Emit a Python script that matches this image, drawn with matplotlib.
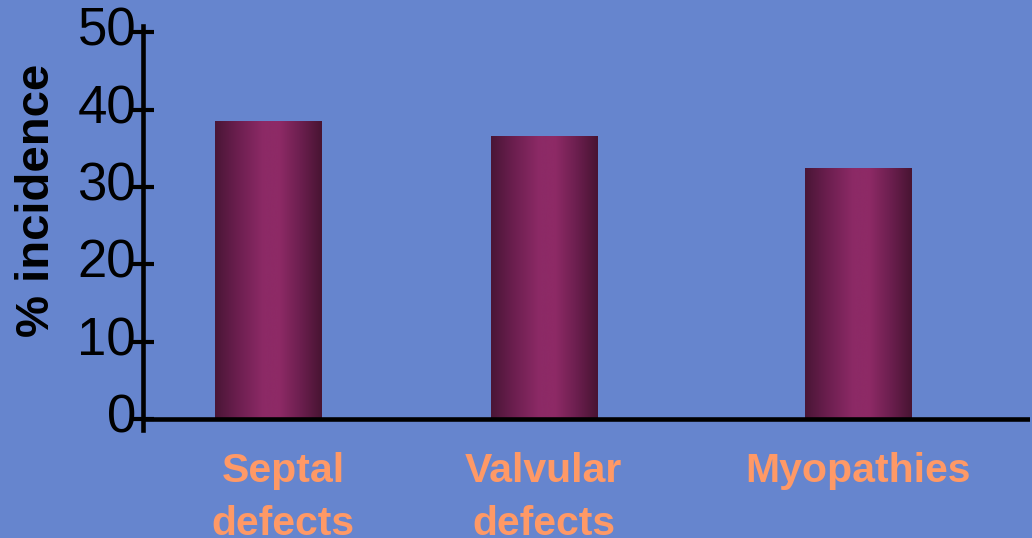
import numpy as np
import matplotlib
matplotlib.use("Agg")
import matplotlib.pyplot as plt
from matplotlib.colors import LinearSegmentedColormap
from matplotlib.patches import Rectangle
from matplotlib.transforms import ScaledTranslation

# Data
categories = ["Septal\ndefects", "Valvular\ndefects", "Myopathies"]
incidence = [38.5, 36.6, 32.4]
y_ticks = [0, 10, 20, 30, 40, 50]

# Layout
bar_pos = [0.0, 1.0, 2.143]
label_pos = [0.054, 1.0, 2.143]
bar_width = 0.385

bg = "#6685CE"
label_color = "#FF9966"
bar_cmap = LinearSegmentedColormap.from_list(
    "bar_shade",
    [(0.0, "#4A1636"), (0.2, "#6A1E4E"), (0.45, "#8C2A66"),
     (0.6, "#8E2A66"), (0.8, "#6C1F4F"), (1.0, "#481432")])

fig = plt.figure(figsize=(10.32, 5.38), dpi=100, facecolor=bg)
W, H = 1032, 538
ax = fig.add_axes([143 / W, (H - 430) / H, (1030 - 143) / W, (430 - 26) / H])
ax.set_facecolor(bg)

grad = np.linspace(0, 1, 256).reshape(1, -1)
for x, v in zip(bar_pos, incidence):
    rect = Rectangle((x - bar_width / 2, 0), bar_width, v,
                     facecolor="none", edgecolor="none")
    ax.add_patch(rect)
    im = ax.imshow(grad, cmap=bar_cmap, aspect="auto", interpolation="bicubic",
                   extent=(x - bar_width / 2, x + bar_width / 2, 0, v), zorder=2)
    im.set_clip_path(rect)

ax.set_xlim(-0.454, 2.766)
ax.set_ylim(-1.42, 50.8)

# baseline
ax.axhline(0, color="black", lw=3.3, zorder=3)

for s in ["top", "right", "bottom"]:
    ax.spines[s].set_visible(False)
ax.spines["left"].set_linewidth(3.3)
ax.spines["left"].set_color("black")

ax.set_yticks(y_ticks)
ax.set_yticklabels([str(t) for t in y_ticks], fontsize=38,
                   family="Liberation Sans", color="black")
ax.tick_params(axis="y", direction="inout", length=16, width=3, pad=-3)
shift_up = ScaledTranslation(0, 6 / 100, fig.dpi_scale_trans)
for lbl in ax.get_yticklabels():
    lbl.set_transform(lbl.get_transform() + shift_up)

ax.set_xticks(label_pos)
ax.set_xticklabels(categories, fontsize=29.5, fontweight="bold",
                   family="Liberation Sans", color=label_color,
                   linespacing=1.5)
ax.tick_params(axis="x", length=0, pad=16)

fig.text(37 / W, 1 - 200 / H, "% incidence", rotation=90, fontsize=34,
         fontweight="bold", family="Liberation Sans", color="black",
         ha="center", va="center")

fig.savefig("out.png", dpi=100, facecolor=bg)
